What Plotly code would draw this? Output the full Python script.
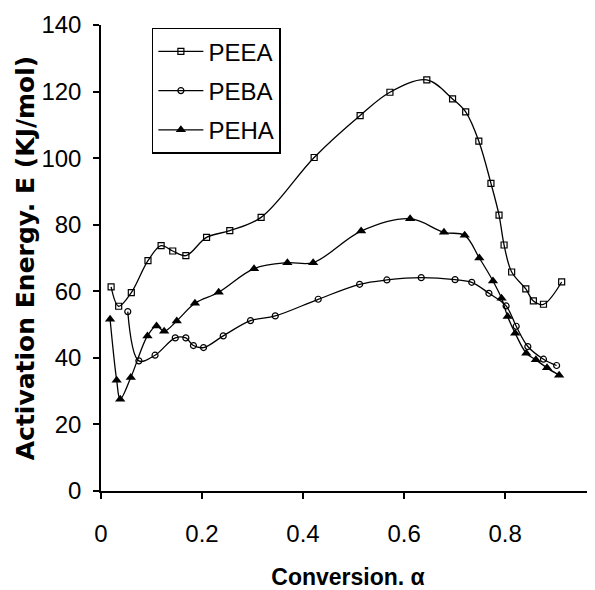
import plotly.graph_objects as go

# PEEA (open squares)
peea_x = [0.020, 0.035, 0.060, 0.093, 0.119, 0.142, 0.168, 0.209, 0.255, 0.317, 0.422, 0.513,
          0.572, 0.645, 0.696, 0.722, 0.748, 0.772, 0.788, 0.798, 0.813, 0.841, 0.856, 0.876, 0.912]
peea_y = [61.3, 55.5, 59.6, 69.2, 73.7, 72.1, 70.7, 76.2, 78.2, 82.2, 100.2, 112.8,
          119.8, 123.5, 117.8, 113.9, 105.1, 92.4, 82.9, 73.9, 65.8, 60.7, 57.1, 56.1, 62.8]

# PEBA (open circles)
peba_x = [0.053, 0.075, 0.107, 0.147, 0.168, 0.183, 0.203, 0.242, 0.296, 0.345, 0.430, 0.512,
          0.566, 0.634, 0.701, 0.734, 0.768, 0.802, 0.822, 0.845, 0.876, 0.902]
peba_y = [53.9, 39.1, 40.8, 46.0, 46.0, 43.7, 43.1, 46.6, 51.2, 52.6, 57.6, 62.1,
          63.4, 64.1, 63.5, 62.7, 59.4, 55.6, 49.5, 43.4, 39.6, 37.7]

# PEHA (filled triangles)
peha_x = [0.018, 0.031, 0.038, 0.059, 0.092, 0.110, 0.125, 0.150, 0.186, 0.233, 0.303, 0.369,
          0.420, 0.515, 0.612, 0.679, 0.720, 0.749, 0.776, 0.793, 0.805, 0.820, 0.842, 0.861,
          0.883, 0.907]
peha_y = [51.6, 33.3, 27.6, 34.1, 46.6, 49.6, 48.0, 51.1, 56.4, 59.7, 66.8, 68.6,
          68.6, 78.1, 81.8, 77.7, 76.8, 70.0, 63.1, 57.9, 52.4, 47.4, 41.4, 39.4,
          37.0, 34.8]

x_ticks = [0, 0.2, 0.4, 0.6, 0.8]
x_tick_labels = ["0", "0.2", "0.4", "0.6", "0.8"]
y_ticks = [0, 20, 40, 60, 80, 100, 120, 140]

TICKFONT = "Liberation Sans, Arial, sans-serif"

fig = go.Figure()
line_style = dict(color="black", width=1.3, shape="spline")
fig.add_trace(go.Scatter(x=peea_x, y=peea_y, name="PEEA", mode="lines+markers",
                         legendgroup="a", line=line_style,
                         marker=dict(symbol="square-open", size=6, color="black",
                                     line=dict(width=1.2, color="black"))))
fig.add_trace(go.Scatter(x=peba_x, y=peba_y, name="PEBA", mode="lines+markers",
                         legendgroup="b", line=line_style,
                         marker=dict(symbol="circle-open", size=6, color="black",
                                     line=dict(width=1.2, color="black"))))
fig.add_trace(go.Scatter(x=peha_x, y=peha_y, name="PEHA", mode="lines+markers",
                         legendgroup="c", line=line_style,
                         marker=dict(symbol="triangle-up", size=9, color="black")))

# page body has an 8px default margin, so the figure is sized/offset to compensate
fig.update_layout(
    width=587, height=582,
    margin=dict(l=93, r=0, t=17, b=99),
    paper_bgcolor="white", plot_bgcolor="white",
    showlegend=True,
    legend=dict(x=0.103, y=0.994, xanchor="left", yanchor="top",
                bgcolor="white", bordercolor="black", borderwidth=1.5,
                tracegroupgap=5, itemwidth=45,
                font=dict(family=TICKFONT, size=24, color="black")),
    xaxis=dict(range=[0, 0.978], tickvals=x_ticks, ticktext=x_tick_labels,
               automargin=False,
               showgrid=False, zeroline=False, showline=True, linecolor="black",
               linewidth=1.5, ticks="outside", ticklen=6, tickwidth=1.5,
               tickcolor="black", ticklabelstandoff=14,
               tickfont=dict(family=TICKFONT, size=24, color="black"),
               title=dict(text="Conversion. α", standoff=30,
                          font=dict(family="Liberation Sans", size=23,
                                    color="black", weight="bold"))),
    yaxis=dict(range=[0, 140], tickvals=y_ticks, automargin=False,
               showgrid=False, zeroline=False, showline=True, linecolor="black",
               linewidth=1.5, ticks="outside", ticklen=6, tickwidth=1.5,
               tickcolor="black", ticklabelstandoff=7,
               tickfont=dict(family=TICKFONT, size=24, color="black"),
               title=dict(text="Activation Energy. E (KJ/mol)", standoff=0,
                          font=dict(family="DejaVu Sans", size=25,
                                    color="black", weight="bold"))),
)

fig.write_html("out.html")
